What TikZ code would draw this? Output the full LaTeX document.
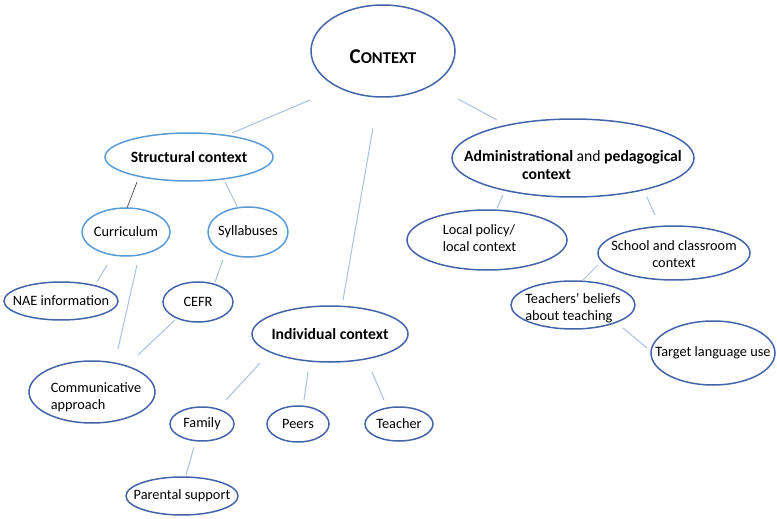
\documentclass[tikz,border=0pt]{standalone}
\usepackage{fontspec}
\setmainfont{Carlito}
\usetikzlibrary{shapes.geometric,calc}
\definecolor{edgeblue}{RGB}{68,100,170}
\definecolor{lightblue}{RGB}{91,155,213}
\definecolor{connblue}{RGB}{170,192,226}
\definecolor{conngray}{RGB}{90,90,90}
\newcommand\ovaltxt[1]{\makebox[0pt]{#1}}
\newcommand\ovaltxtl[1]{\begin{tabular}{@{}l@{}}#1\end{tabular}}
\newcommand\ovaltxtc[1]{\begin{tabular}{@{}c@{}}#1\end{tabular}}
\tikzset{
  normtext/.style={font=\fontsize{14.3}{17}\selectfont,text=black},
  bigtext/.style={font=\fontsize{15.7}{18.5}\selectfont,text=black},
  oval/.style={ellipse,draw=edgeblue,line width=1.5pt,inner sep=0pt,normtext},
  ovalb/.style={oval,draw=lightblue},
  link/.style={draw=connblue,line width=1pt},
  linkdark/.style={draw=conngray,line width=0.8pt},
}
\begin{document}
\begin{tikzpicture}[x=1pt,y=-1pt]
\useasboundingbox[fill=white] (0,0) rectangle (777,519);
% nodes
\node[oval,minimum width=144pt,minimum height=92pt,
  label={[yshift=-6pt,text=black]center:{\bfseries\fontsize{21}{21}\selectfont C\fontsize{16.5}{17}\selectfont ONTEXT}}] (ctx) at (383,51) {};
\node[ovalb,bigtext,minimum width=168pt,minimum height=48pt] (str) at (189,157)
  {\ovaltxt{\bfseries Structural context}};
\node[oval,minimum width=242pt,minimum height=78pt,
  label={[bigtext,yshift=-9pt]center:{\ovaltxtl{\textbf{Administrational} and \textbf{pedagogical}\\\hspace*{58pt}\textbf{context}}}}] (adm) at (573,158) {};
\node[ovalb,minimum width=88pt,minimum height=48pt] (cur) at (126,232) {\ovaltxt{Curriculum}};
\node[ovalb,minimum width=80pt,minimum height=50pt] (syl) at (248,232) {\ovaltxt{Syllabuses}};
\node[oval,minimum width=114pt,minimum height=38pt] (nae) at (61,301) {\ovaltxt{NAE information}};
\node[oval,minimum width=70pt,minimum height=40pt] (cefr) at (198,302) {\ovaltxt{CEFR}};
\node[oval,minimum width=126pt,minimum height=62pt,
  label={[normtext,yshift=-6pt]center:{\ovaltxtl{\hspace*{8pt}Communicative\\\hspace*{8pt}approach}}}] (com) at (92,392) {};
\node[oval,bigtext,minimum width=156pt,minimum height=56pt] (ind) at (330,334)
  {\ovaltxt{\bfseries Individual context}};
\node[oval,minimum width=64pt,minimum height=34pt] (fam) at (202,424) {\ovaltxt{Family}};
\node[oval,minimum width=62pt,minimum height=36pt] (peer) at (298,424) {\ovaltxt{Peers}};
\node[oval,minimum width=68pt,minimum height=34pt] (tea) at (399,424) {\ovaltxt{Teacher}};
\node[oval,minimum width=112pt,minimum height=38pt] (par) at (182,496) {\ovaltxt{Parental support}};
\node[oval,minimum width=160pt,minimum height=60pt,
  label={[normtext]center:{\ovaltxtl{Local policy/\hspace*{16pt}\\local context}}}] (loc) at (487,240) {};
\node[oval,minimum width=152pt,minimum height=54pt,
  label={[normtext,yshift=-3pt]center:{\ovaltxtc{School and classroom\\context}}}] (sch) at (674,253) {};
\node[oval,minimum width=124pt,minimum height=48pt,
  label={[normtext,yshift=-4pt]center:{\ovaltxtl{Teachers’ beliefs\\about teaching}}}] (tb) at (573,305) {};
\node[oval,minimum width=124pt,minimum height=64pt] (tl) at (713,353) {\ovaltxt{Target language use}};
% connectors
\draw[link] ($(ctx)+(-73,49)$) -- ($(str)+(43,-24)$);
\draw[link] ($(ctx)+(-10,77)$) -- ($(ind)+(13,-34)$);
\draw[link] ($(ctx)+(75,48)$) -- ($(adm)+(-76,-38)$);
\draw[linkdark] ($(str)+(-52,25)$) -- ($(cur)+(1,-24)$);
\draw[link] ($(str)+(36,25)$) -- ($(syl)+(-10,-24)$);
\draw[link] ($(cur)+(-19,33)$) -- ($(nae)+(36,-19)$);
\draw[link] ($(cur)+(11,33)$) -- ($(com)+(26,-43)$);
\draw[link] ($(syl)+(-25,28)$) -- ($(cefr)+(17,-20)$);
\draw[link] ($(cefr)+(-23,18)$) -- ($(com)+(46,-37)$);
\draw[link] ($(ind)+(-70,29)$) -- ($(fam)+(24,-24)$);
\draw[link] ($(ind)+(-22,38)$) -- ($(peer)+(6,-24)$);
\draw[link] ($(ind)+(42,38)$) -- ($(tea)+(-15,-24)$);
\draw[link] ($(fam)+(-8,23)$) -- ($(par)+(4,-21)$);
\draw[link] ($(adm)+(-70,37)$) -- ($(loc)+(10,-32)$);
\draw[link] ($(adm)+(74,39)$) -- ($(sch)+(-19,-38)$);
\draw[link] ($(sch)+(-76,12)$) -- ($(tb)+(10,-25)$);
\draw[link] ($(tb)+(50,23)$) -- ($(tl)+(-66,-5)$);
\end{tikzpicture}
\end{document}
